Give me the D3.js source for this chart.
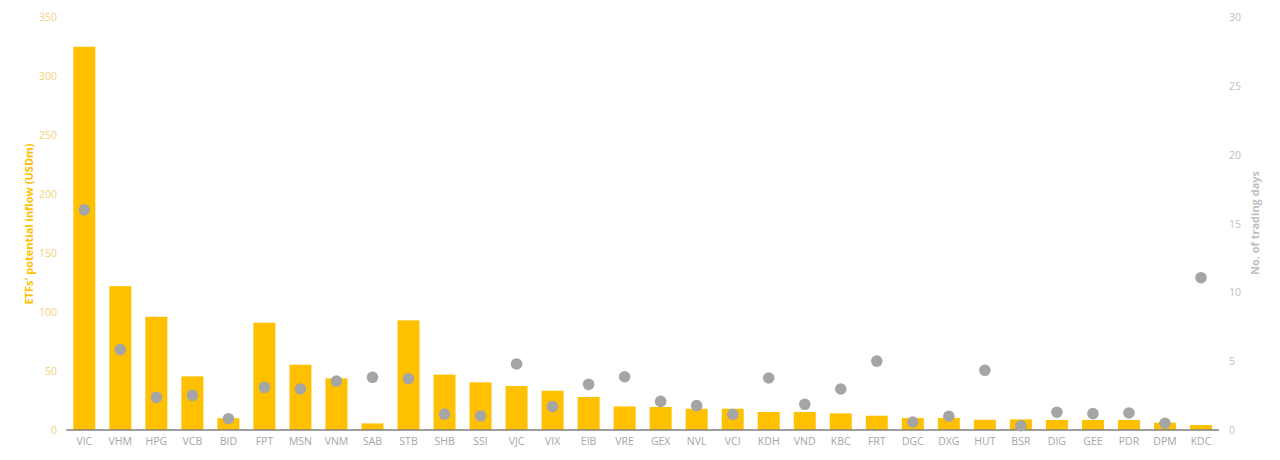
<!DOCTYPE html>
<html>
<head>
<meta charset="utf-8">
<script src="https://cdn.jsdelivr.net/npm/d3@7/dist/d3.min.js"></script>
<style>
  html, body { margin: 0; padding: 0; background: #ffffff; }
  svg { display: block; }
</style>
</head>
<body>
<svg id="chart" width="1280" height="460"></svg>
<script>
const categories = ["VIC","VHM","HPG","VCB","BID","FPT","MSN","VNM","SAB","STB","SHB","SSI","VJC","VIX","EIB","VRE","GEX","NVL","VCI","KDH","VND","KBC","FRT","DGC","DXG","HUT","BSR","DIG","GEE","PDR","DPM","KDC"];
const inflow = [325,122,96,45.5,10,91,55.4,43.8,5.6,93,47,40.4,37.3,33.3,28,20,19.5,18,18,15.3,15.3,14.1,12.1,10.2,10.2,8.7,9,8.5,8.5,8.5,6.2,4.2];
const tradingDays = [16.0,5.84,2.37,2.52,0.82,3.1,2.98,3.56,3.83,3.73,1.16,1.02,4.8,1.7,3.32,3.87,2.08,1.77,1.14,3.78,1.87,2.98,5.01,0.58,1.0,4.34,0.31,1.29,1.19,1.24,0.49,11.07];
const leftTicks = [0,50,100,150,200,250,300,350];
const rightTicks = [0,5,10,15,20,25,30];
const leftTitle = "ETFs' potential inflow (USDm)";
const rightTitle = "No. of trading days";

const svg = d3.select("#chart");
const x0 = 66.3, x1 = 1219, yBase = 430, yTop = 17.3;

const x = d3.scaleBand().domain(categories).range([x0, x1]).paddingInner(0.39).paddingOuter(0.195);
const yL = d3.scaleLinear().domain([0, 350]).range([yBase, yTop]);
const yR = d3.scaleLinear().domain([0, 30]).range([yBase, yTop]);

const font = "'Open Sans', 'Liberation Sans', sans-serif";

// bars
svg.append("g").selectAll("rect").data(categories).join("rect")
  .attr("x", d => x(d))
  .attr("width", x.bandwidth())
  .attr("y", (d, i) => yL(inflow[i]))
  .attr("height", (d, i) => yBase - yL(inflow[i]))
  .attr("fill", "#FFC000");

// x axis
const xAxis = svg.append("g").attr("transform", `translate(0,${yBase})`)
  .call(d3.axisBottom(x).tickSize(0).tickPadding(8));
xAxis.select(".domain").attr("stroke", "#7F7F7F").attr("stroke-width", 1.5)
  .attr("d", `M${x0},0H${x1}`);
xAxis.selectAll("text").attr("fill", "#A6A6A6").style("font-family", font).style("font-size", "10.5px");

// left axis
const lAxis = svg.append("g").attr("transform", `translate(57,0)`)
  .call(d3.axisLeft(yL).tickValues(leftTicks).tickSize(0).tickPadding(0));
lAxis.select(".domain").remove();
lAxis.selectAll("text").attr("fill", "#F2D27A").style("font-family", font).style("font-size", "10.5px");

// right axis
const rAxis = svg.append("g").attr("transform", `translate(1229,0)`)
  .call(d3.axisRight(yR).tickValues(rightTicks).tickSize(0).tickPadding(0));
rAxis.select(".domain").remove();
rAxis.selectAll("text").attr("fill", "#BFBFBF").style("font-family", font).style("font-size", "10.5px");

// dots
svg.append("g").selectAll("circle").data(categories).join("circle")
  .attr("cx", d => x(d) + x.bandwidth() / 2)
  .attr("cy", (d, i) => yR(tradingDays[i]))
  .attr("r", 5.8)
  .attr("fill", "#A5A5A5");

// titles
svg.append("text")
  .attr("transform", "translate(28,224) rotate(-90)")
  .attr("text-anchor", "middle").attr("dominant-baseline", "central")
  .attr("fill", "#FFC000").style("font-family", font).style("font-size", "11px").style("font-weight", "bold")
  .text(leftTitle);
svg.append("text")
  .attr("transform", "translate(1254,223) rotate(-90)")
  .attr("text-anchor", "middle").attr("dominant-baseline", "central")
  .attr("fill", "#BFBFBF").style("font-family", font).style("font-size", "11px").style("font-weight", "bold")
  .text(rightTitle);
</script>
</body>
</html>
